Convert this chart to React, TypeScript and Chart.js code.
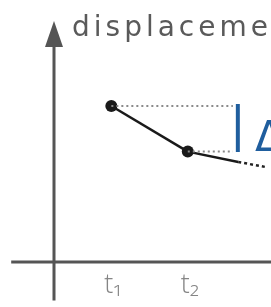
import { useEffect, useRef } from 'react';
import { Chart, registerables } from 'chart.js';

Chart.register(...registerables);

// ---- data ----
const tickLabels = ['t₁', 't₂'];
const tValues = [0.75, 1.75];
const displacementValues = [6.5, 4.6];
const trendX = [1.75, 2.41];
const trendY = [4.6, 4.17];
const dashedX = [2.41, 2.78];
const dashedY = [4.17, 3.95];
const guideEndX = 2.34;
const yAxisLabel = 'displacement';
const deltaLabel = '|Δx|';

const X_MIN = 0;
const X_MAX = 2.76;
const Y_MIN = 0;
const Y_MAX = 10;
const X_AXIS_START = -0.56;
const Y_AXIS_BOTTOM = -1.6;

const axisPlugin = {
  id: 'customAxes',
  beforeDatasetsDraw(chart: any) {
    const { ctx, scales } = chart;
    const xs = scales.x;
    const ys = scales.y;
    const x0 = xs.getPixelForValue(0);
    const y0 = ys.getPixelForValue(0);
    const tipY = ys.getPixelForValue(Y_MAX);
    ctx.save();
    ctx.strokeStyle = '#555555';
    ctx.lineWidth = 3;
    ctx.beginPath();
    ctx.moveTo(xs.getPixelForValue(X_AXIS_START), y0);
    ctx.lineTo(chart.width, y0);
    ctx.stroke();
    ctx.beginPath();
    ctx.moveTo(x0, ys.getPixelForValue(Y_AXIS_BOTTOM));
    ctx.lineTo(x0, tipY + 18);
    ctx.stroke();
    ctx.fillStyle = '#555555';
    ctx.beginPath();
    ctx.moveTo(x0, tipY - 1);
    ctx.lineTo(x0 - 9, tipY + 25);
    ctx.lineTo(x0 + 9, tipY + 25);
    ctx.closePath();
    ctx.fill();
    ctx.restore();
  },
  afterDatasetsDraw(chart: any) {
    const { ctx, scales } = chart;
    const xs = scales.x;
    const ys = scales.y;
    const x0 = xs.getPixelForValue(0);
    const y0 = ys.getPixelForValue(0);
    const tipY = ys.getPixelForValue(Y_MAX);
    ctx.save();
    // axis title
    ctx.fillStyle = '#5a5a5a';
    ctx.font = '28px "DejaVu Sans"';
    ctx.textAlign = 'left';
    ctx.textBaseline = 'alphabetic';
    (ctx as any).letterSpacing = '4px';
    ctx.fillText(yAxisLabel, x0 + 18, tipY + 14);
    (ctx as any).letterSpacing = '0px';
    // tick labels
    ctx.fillStyle = '#858585';
    ctx.font = '300 27px "Open Sans", "DejaVu Sans"';
    ctx.textAlign = 'center';
    tickLabels.forEach((lab, i) => {
      ctx.fillText(lab, xs.getPixelForValue(tValues[i]) + 2, y0 + 31);
    });
    // delta label
    const topY = ys.getPixelForValue(displacementValues[0]);
    const botY = ys.getPixelForValue(displacementValues[1]);
    const barX = xs.getPixelForValue(guideEndX) + 5;
    ctx.fillStyle = '#1f5e9e';
    ctx.textBaseline = 'alphabetic';
    ctx.textAlign = 'center';
    ctx.font = '48px "DejaVu Sans"';
    ctx.fillText(deltaLabel[0], barX, topY + 35);
    ctx.textAlign = 'left';
    ctx.font = '42px "DejaVu Sans"';
    ctx.fillText(deltaLabel.slice(1), barX + 17, botY - 1);
    ctx.restore();
  },
};

export default function App() {
  const ref = useRef<HTMLCanvasElement | null>(null);
  useEffect(() => {
    if (!ref.current) return;
    const chart = new Chart(ref.current, {
      type: 'line',
      data: {
        datasets: [
          {
            data: [
              { x: tValues[0], y: displacementValues[0] },
              { x: guideEndX, y: displacementValues[0] },
            ],
            borderColor: '#8a8a8a',
            borderWidth: 2,
            borderDash: [2, 3],
            pointRadius: 0,
          },
          {
            data: [
              { x: tValues[1], y: displacementValues[1] },
              { x: guideEndX, y: displacementValues[1] },
            ],
            borderColor: '#8a8a8a',
            borderWidth: 2,
            borderDash: [2, 3],
            pointRadius: 0,
          },
          {
            data: dashedX.map((x, i) => ({ x, y: dashedY[i] })),
            borderColor: '#222222',
            borderWidth: 2.5,
            borderDash: [3, 3],
            pointRadius: 0,
          },
          {
            data: trendX.map((x, i) => ({ x, y: trendY[i] })),
            borderColor: '#1a1a1a',
            borderWidth: 2.5,
            pointRadius: 0,
          },
          {
            data: tValues.map((x, i) => ({ x, y: displacementValues[i] })),
            borderColor: '#1a1a1a',
            backgroundColor: '#1a1a1a',
            borderWidth: 2.5,
            pointRadius: 6,
            pointBorderWidth: 0,
          },
        ],
      },
      options: {
        animation: false,
        responsive: false,
        devicePixelRatio: 1,
        layout: { padding: { left: 54, right: 0, top: 22, bottom: 45 } },
        plugins: { legend: { display: false }, tooltip: { enabled: false } },
        elements: { line: { tension: 0 } },
        scales: {
          x: { type: 'linear', min: X_MIN, max: X_MAX, display: false },
          y: { type: 'linear', min: Y_MIN, max: Y_MAX, display: false },
        },
        datasets: { line: { clip: false } } as any,
      },
      plugins: [axisPlugin],
    });
    return () => chart.destroy();
  }, []);
  return (
    <div style={{ position: 'fixed', left: 0, top: 0, width: 271, height: 307, background: '#ffffff' }}>
      <canvas ref={ref} width={271} height={307} />
    </div>
  );
}
